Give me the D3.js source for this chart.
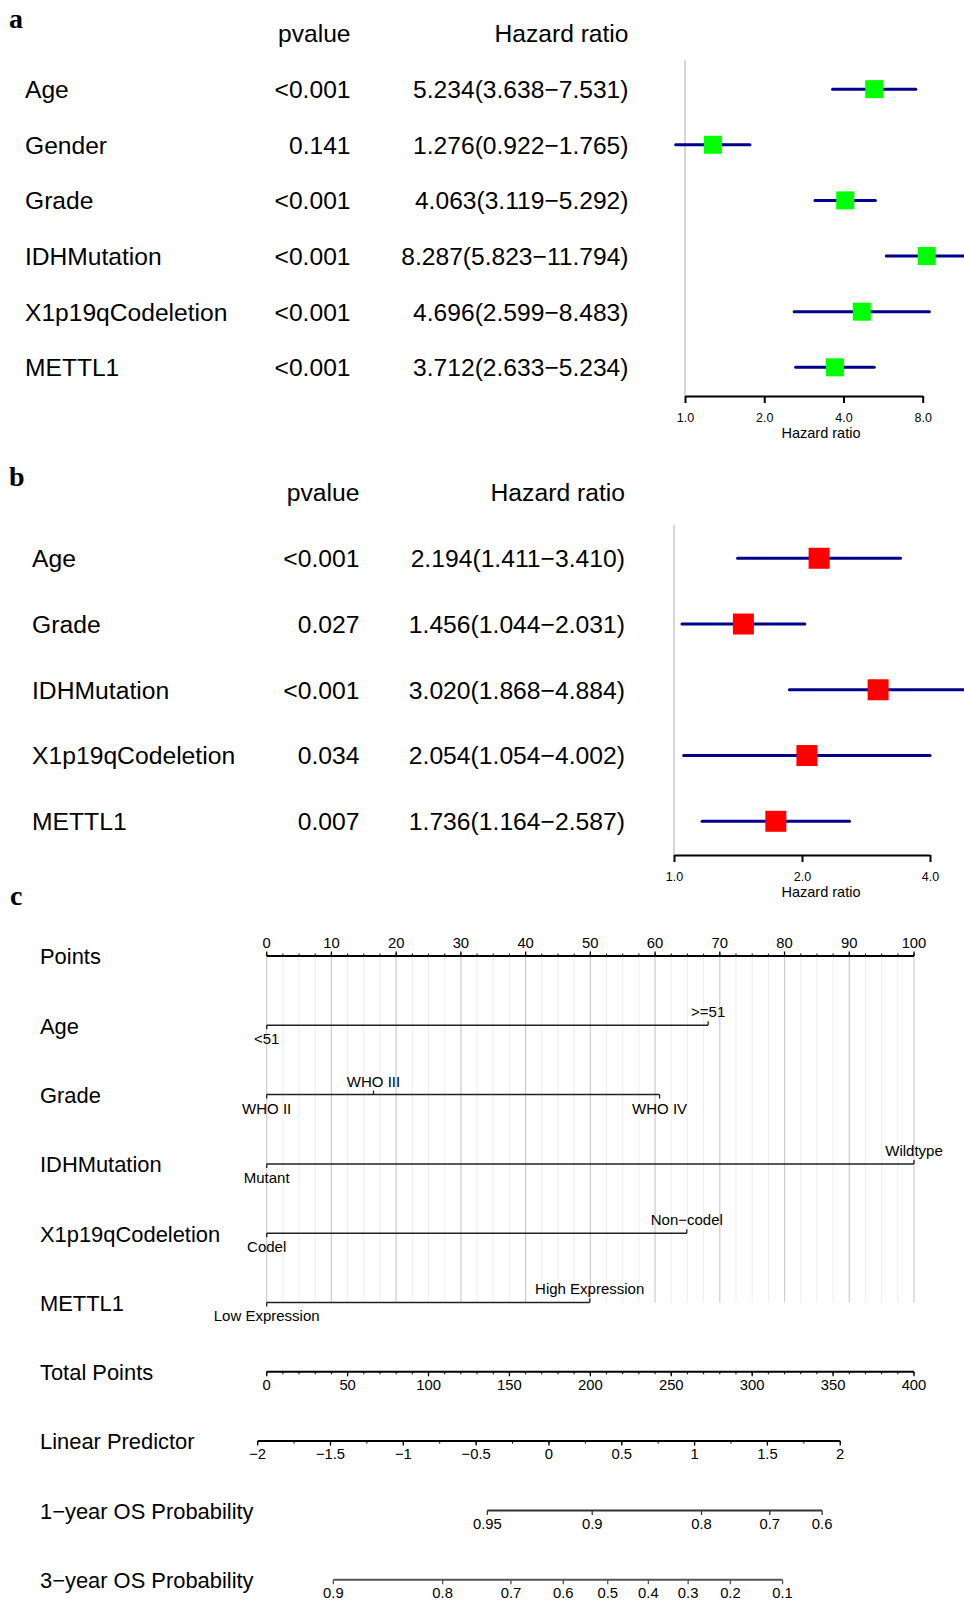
<!DOCTYPE html>
<html>
<head>
<meta charset="utf-8">
<script src="https://cdn.jsdelivr.net/npm/d3@7"></script>
<style>
  body { margin: 0; background: #fff; }
  svg text { font-family: "Liberation Sans", Arial, Helvetica, sans-serif; fill: #000; }
</style>
</head>
<body>
<svg id="fig" width="964" height="1601"></svg>
<script>
// ---- Univariate Cox regression ----
const uniVars  = ["Age", "Gender", "Grade", "IDHMutation", "X1p19qCodeletion", "METTL1"];
const uniP     = ["<0.001", "0.141", "<0.001", "<0.001", "<0.001", "<0.001"];
const uniHR    = [5.234, 1.276, 4.063, 8.287, 4.696, 3.712];
const uniLow   = [3.638, 0.922, 3.119, 5.823, 2.599, 2.633];
const uniHigh  = [7.531, 1.765, 5.292, 11.794, 8.483, 5.234];
const uniTicks = [1, 2, 4, 8];

// ---- Multivariate Cox regression ----
const multiVars  = ["Age", "Grade", "IDHMutation", "X1p19qCodeletion", "METTL1"];
const multiP     = ["<0.001", "0.027", "<0.001", "0.034", "0.007"];
const multiHR    = [2.194, 1.456, 3.020, 2.054, 1.736];
const multiLow   = [1.411, 1.044, 1.868, 1.054, 1.164];
const multiHigh  = [3.410, 2.031, 4.884, 4.002, 2.587];
const multiTicks = [1, 2, 4];

// ---- Nomogram ----
const nomoRows = ["Points", "Age", "Grade", "IDHMutation", "X1p19qCodeletion", "METTL1",
                  "Total Points", "Linear Predictor", "1\u2212year OS Probability", "3\u2212year OS Probability"];
const ageLevels   = ["<51", ">=51"];
const agePoints   = [0, 68.2];
const gradeLevels = ["WHO II", "WHO III", "WHO IV"];
const gradePoints = [0, 16.5, 60.7];
const idhLevels   = ["Mutant", "Wildtype"];
const idhPoints   = [0, 100];
const codelLevels = ["Codel", "Non\u2212codel"];
const codelPoints = [0, 64.9];
const mettlLevels = ["Low Expression", "High Expression"];
const mettlPoints = [0, 49.9];

const pointsTicks = [0, 10, 20, 30, 40, 50, 60, 70, 80, 90, 100];
const totalTicks  = [0, 50, 100, 150, 200, 250, 300, 350, 400];
const lpTicks     = [-2, -1.5, -1, -0.5, 0, 0.5, 1, 1.5, 2];
const os1Ticks    = [0.95, 0.9, 0.8, 0.7, 0.6];
const os3Ticks    = [0.9, 0.8, 0.7, 0.6, 0.5, 0.4, 0.3, 0.2, 0.1];

// model constants: linear predictor at zero total points, points per unit of LP,
// baseline survival at 1 and 3 years
const lpAtZeroPoints = -1.938;
const pointsPerLP    = 90.0;
const baseSurv1      = 0.9247;
const baseSurv3      = 0.6294;

const svg = d3.select("#fig");
svg.append("rect").attr("width", 964).attr("height", 1601).attr("fill", "#fff");

const fmt3 = d3.format(".3f");
const minus = s => s.replace(/-/g, "\u2212");

function panelLetter(letter, x, y) {
  svg.append("text").attr("x", x).attr("y", y).text(letter)
    .style("font-family", '"Liberation Serif", "Times New Roman", serif')
    .style("font-weight", "bold").style("font-size", "28px");
}

function forest(o) {
  const g = svg.append("g");
  const rows = d3.scalePoint().domain(["__head"].concat(o.vars)).range([o.headY, o.lastY]);
  const x = d3.scaleLog().base(2).domain([1, d3.max(o.ticks)]).range(o.xRange);

  // table text
  const fs = o.fontSize;
  g.append("text").attr("x", o.pX).attr("y", rows("__head")).attr("dy", "0.36em")
    .attr("text-anchor", "end").style("font-size", fs).text("pvalue");
  g.append("text").attr("x", o.hrX).attr("y", rows("__head")).attr("dy", "0.36em")
    .attr("text-anchor", "end").style("font-size", fs).text("Hazard ratio");

  o.vars.forEach((v, i) => {
    const y = rows(v);
    g.append("text").attr("x", o.labelX).attr("y", y).attr("dy", "0.36em")
      .style("font-size", fs).text(v);
    g.append("text").attr("x", o.pX).attr("y", y).attr("dy", "0.36em")
      .attr("text-anchor", "end").style("font-size", fs).text(o.p[i]);
    g.append("text").attr("x", o.hrX).attr("y", y).attr("dy", "0.36em")
      .attr("text-anchor", "end").style("font-size", fs)
      .text(`${fmt3(o.hr[i])}(${fmt3(o.lo[i])}\u2212${fmt3(o.hi[i])})`);
  });

  // reference line at HR = 1
  g.append("line").attr("x1", x(1)).attr("x2", x(1))
    .attr("y1", o.lineTop).attr("y2", o.axisY)
    .attr("stroke", "#c8c8c8").attr("stroke-width", 1.5);

  // confidence intervals and point estimates
  o.vars.forEach((v, i) => {
    const y = rows(v);
    g.append("line").attr("x1", x(o.lo[i])).attr("x2", x(o.hi[i]))
      .attr("y1", y).attr("y2", y)
      .attr("stroke", "#00008b").attr("stroke-width", 3).attr("stroke-linecap", "round");
    g.append("rect").attr("x", x(o.hr[i]) - o.box / 2).attr("y", y - o.box / 2)
      .attr("width", o.box).attr("height", o.box).attr("fill", o.color);
  });

  // x axis
  const ax = g.append("g").attr("transform", `translate(0,${o.axisY})`)
    .call(d3.axisBottom(x).tickValues(o.ticks).tickFormat(d3.format(".1f"))
      .tickSize(7).tickSizeOuter(0));
  ax.select(".domain").attr("stroke", "#000").attr("stroke-width", 2);
  ax.selectAll(".tick line").attr("stroke", "#000").attr("stroke-width", 2);
  ax.selectAll(".tick text").attr("y", 21.5).attr("dy", "0.36em")
    .style("font-size", "12.5px").style("font-family", '"Liberation Sans", Arial, sans-serif');
  g.append("text").attr("x", o.titleX).attr("y", o.axisY + 37).attr("dy", "0.36em")
    .attr("text-anchor", "middle").style("font-size", "14.5px").text("Hazard ratio");
}

// ---- panel a ----
panelLetter("a", 9, 28);
forest({
  vars: uniVars, p: uniP, hr: uniHR, lo: uniLow, hi: uniHigh, ticks: uniTicks,
  headY: 33.5, lastY: 367.3, labelX: 25, pX: 350.5, hrX: 628.5, fontSize: "24.6px",
  xRange: [685, 922.7], axisY: 396, lineTop: 60, box: 18, color: "#00ff00", titleX: 821
});

// ---- panel b ----
panelLetter("b", 9, 486);
forest({
  vars: multiVars, p: multiP, hr: multiHR, lo: multiLow, hi: multiHigh, ticks: multiTicks,
  headY: 492.5, lastY: 821.3, labelX: 32, pX: 359.5, hrX: 625, fontSize: "24.7px",
  xRange: [674, 930], axisY: 855, lineTop: 525, box: 21, color: "#ff0000", titleX: 821
});

// ---- panel c: nomogram ----
panelLetter("c", 10, 905);
const ng = svg.append("g");
const rowY = d3.scalePoint().domain(nomoRows).range([956, 1579.7]);
const pts = d3.scaleLinear().domain([0, 100]).range([266.7, 914]);
const tot = d3.scaleLinear().domain([0, 400]).range([266.7, 914]);
const lpX = lp => tot((lp - lpAtZeroPoints) * pointsPerLP);
const survX = s0 => s => lpX(Math.log(Math.log(s) / Math.log(s0)));
const os1X = survX(baseSurv1);
const os3X = survX(baseSurv3);

// row labels
nomoRows.forEach(r => {
  ng.append("text").attr("x", 40).attr("y", rowY(r) + 0.5).attr("dy", "0.36em")
    .style("font-size", "21.9px").text(r);
});

// vertical grid over the predictor rows
const gridTop = rowY("Points"), gridBot = rowY("METTL1");
d3.range(0, 100.001, 2.5).forEach(v => {
  const major = Math.abs(v / 10 - Math.round(v / 10)) < 1e-9;
  if (major) return;
  ng.append("line").attr("x1", pts(v)).attr("x2", pts(v)).attr("y1", gridTop).attr("y2", gridBot)
    .attr("stroke", "#eeeeee").attr("stroke-width", 1);
});
pointsTicks.forEach(v => {
  ng.append("line").attr("x1", pts(v)).attr("x2", pts(v)).attr("y1", gridTop).attr("y2", gridBot)
    .attr("stroke", "#cccccc").attr("stroke-width", 1.2);
});

// generic scale axis: line, major ticks with labels, minor ticks
function scaleAxis(y, xf, ticks, minor, above, fmt, color) {
  const dir = above ? -1 : 1;
  const xs = ticks.map(xf);
  ng.append("line").attr("x1", d3.min(xs)).attr("x2", d3.max(xs)).attr("y1", y).attr("y2", y)
    .attr("stroke", color).attr("stroke-width", 2);
  minor.forEach(v => {
    ng.append("line").attr("x1", xf(v)).attr("x2", xf(v)).attr("y1", y).attr("y2", y + dir * 2.5)
      .attr("stroke", color).attr("stroke-width", 1);
  });
  ticks.forEach(v => {
    ng.append("line").attr("x1", xf(v)).attr("x2", xf(v)).attr("y1", y).attr("y2", y + dir * 4.5)
      .attr("stroke", color).attr("stroke-width", 1.3);
    ng.append("text").attr("x", xf(v)).attr("y", y + dir * 13).attr("dy", "0.36em")
      .attr("text-anchor", "middle").style("font-size", "14.8px").text(fmt(v));
  });
}

scaleAxis(rowY("Points"), pts, pointsTicks, d3.range(0, 100.001, 2.5), true, d3.format("d"), "#000");
scaleAxis(rowY("Total Points"), tot, totalTicks, d3.range(0, 400.001, 10), false, d3.format("d"), "#000");
scaleAxis(rowY("Linear Predictor"), lpX, lpTicks, d3.range(-2, 2.001, 0.25), false,
  v => minus(String(v)), "#000");
scaleAxis(rowY(nomoRows[8]), os1X, os1Ticks, [], false, v => String(v), "#333");
scaleAxis(rowY(nomoRows[9]), os3X, os3Ticks, [], false, v => String(v), "#555");

// predictor axes, level labels alternating below / above
function predictorAxis(row, levels, points) {
  const y = rowY(row);
  ng.append("line").attr("x1", pts(d3.min(points))).attr("x2", pts(d3.max(points)))
    .attr("y1", y).attr("y2", y).attr("stroke", "#222").attr("stroke-width", 1.5);
  levels.forEach((lab, i) => {
    const above = i % 2 === 1;
    const dir = above ? -1 : 1;
    ng.append("line").attr("x1", pts(points[i])).attr("x2", pts(points[i]))
      .attr("y1", y).attr("y2", y + dir * 4).attr("stroke", "#222").attr("stroke-width", 1.3);
    ng.append("text").attr("x", pts(points[i])).attr("y", y + dir * 13.5).attr("dy", "0.36em")
      .attr("text-anchor", "middle").style("font-size", "15px").text(lab);
  });
}
predictorAxis("Age", ageLevels, agePoints);
predictorAxis("Grade", gradeLevels, gradePoints);
predictorAxis("IDHMutation", idhLevels, idhPoints);
predictorAxis("X1p19qCodeletion", codelLevels, codelPoints);
predictorAxis("METTL1", mettlLevels, mettlPoints);
</script>
</body>
</html>
